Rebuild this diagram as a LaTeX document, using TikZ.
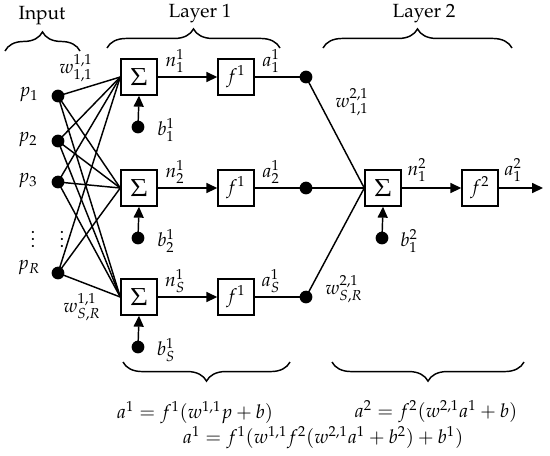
\documentclass[tikz,border=0pt]{standalone}
\usepackage[T1]{fontenc}
\usepackage{mathpazo}
\usetikzlibrary{arrows.meta,decorations.pathreplacing}
\begin{document}
\begin{tikzpicture}[x=0.55pt,y=-0.55pt, font=\fontsize{10.5}{12.5}\selectfont,
 box/.style={draw, line width=0.8pt, minimum size=19.8pt, inner sep=0pt},
 sumbox/.style={box, font=\fontsize{13.5}{14}\selectfont},
 dot/.style={circle, fill, inner sep=0pt, minimum size=7pt},
 wire/.style={line width=0.8pt},
 arr/.style={wire, -{Triangle[length=6pt,width=5.5pt]}},
 brc/.style={decorate, decoration={brace, amplitude=10.5pt}, line width=0.8pt},
 lbl/.style={inner sep=0pt}]
\useasboundingbox (0,0) rectangle (550,455);
% braces
\draw[brc] (5,51) -- (80,51);
\draw[brc] (107,48) -- (280,48);
\draw[brc] (323,48) -- (512,48);
\draw[brc] (290,362) -- (123,362);
\draw[brc] (524,362) -- (332,362);
\node[lbl] (tin) at (42,16) {Input};
\node[lbl] (tl1) at (200,14) {Layer 1};
\node[lbl] (tl2) at (424,14) {Layer 2};
% inputs
\node[dot] (p1) at (58,96) {};
\node[dot] (p2) at (58,141) {};
\node[dot] (p3) at (58,182) {};
\node[dot] (pR) at (58,273) {};
\node[lbl] (lp1) at (29,95) {$p_1$};
\node[lbl] (lp2) at (28,140) {$p_2$};
\node[lbl] (lp3) at (28,181) {$p_3$};
\node[lbl] (lpR) at (29,268) {$p_R$};
\node[lbl] (vd1) at (33,234) {$\vdots$};
\node[lbl] (vd2) at (62,234) {$\vdots$};
% layer 1
\foreach \i/\y/\s in {1/77/1,2/188/2,3/297/S}{
  \node[sumbox] (s\i) at (139,\y) {$\Sigma$};
  \node[box] (f\i) at (236,\y) {$f^1$};
  \node[dot] (d\i) at (306,\y) {};
  \node[dot] (b\i) at (138,\y+50) {};
  \node[lbl] (ln\i) at (175,\y-16) {$n^1_{\s}$};
  \node[lbl] (la\i) at (271,\y-16) {$a^1_{\s}$};
  \node[lbl] (lb\i) at (166,\y+53) {$b^1_{\s}$};
  \draw[arr] (s\i) -- (f\i);
  \draw[wire] (f\i) -- (d\i.center);
  \draw[arr] (b\i.center) -- (s\i.south);
}
\foreach \p in {p1,p2,p3,pR}{
  \foreach \i in {1,2,3}{
    \draw[wire] (\p.center) -- (s\i.west);
  }
}
\node[lbl] (lw1) at (76,68) {$w^{1,1}_{1,1}$};
\node[lbl] (lw2) at (82,307) {$w^{1,1}_{S,R}$};
% layer 2
\node[sumbox] (t) at (383,188) {$\Sigma$};
\node[box] (g) at (480,188) {$f^2$};
\node[dot] (c) at (382,238) {};
\coordinate (out) at (543,188);
\foreach \i in {1,2,3}{
  \draw[wire] (d\i.center) -- (t.west);
}
\draw[arr] (t) -- (g);
\draw[arr] (g) -- (out);
\draw[arr] (c.center) -- (t.south);
\node[lbl] (ln2) at (417,170) {$n^2_1$};
\node[lbl] (la2) at (513,170) {$a^2_1$};
\node[lbl] (lc) at (409,241) {$b^2_1$};
\node[lbl] (lw3) at (352,102) {$w^{2,1}_{1,1}$};
\node[lbl] (lw4) at (344,289) {$w^{2,1}_{S,R}$};
% equations
\node[lbl] (e1) at (195,413) {$a^1 = f^1(w^{1,1}p+b)$};
\node[lbl] (e2) at (436,412) {$a^2 = f^2(w^{2,1}a^1+b)$};
\node[lbl] (e3) at (323,438) {$a^1 = f^1(w^{1,1}f^2(w^{2,1}a^1+b^2)+b^1)$};
\end{tikzpicture}
\end{document}
